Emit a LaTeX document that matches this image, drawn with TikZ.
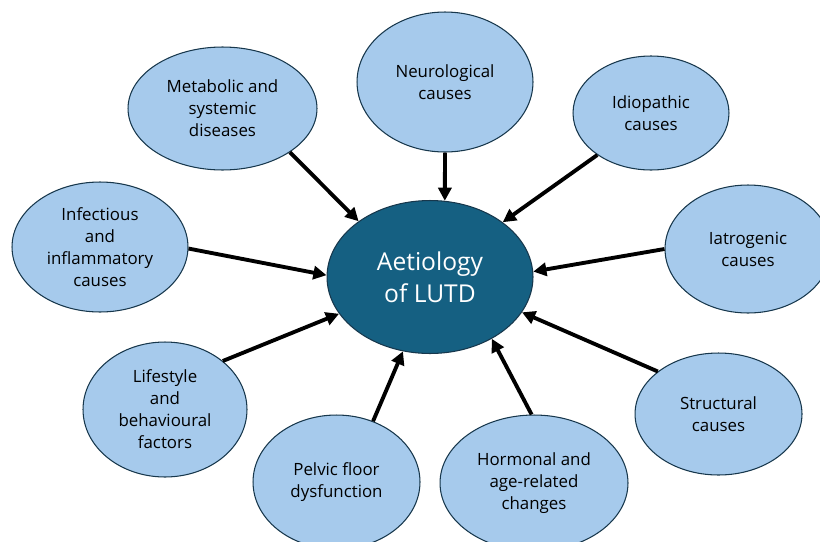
\documentclass[tikz,border=0pt]{standalone}
\usepackage{fontspec}
\setmainfont{Open Sans}
\usetikzlibrary{arrows.meta, shapes.geometric}
\definecolor{causefill}{HTML}{A6CAEC}
\definecolor{causeborder}{HTML}{17374C}
\definecolor{corefill}{HTML}{156082}

\begin{document}
\begin{tikzpicture}[
      x=0.02cm, y=-0.02cm,
      cause/.style={ellipse, draw=causeborder, fill=causefill, line width=0.6pt,
        inner sep=0pt, align=center, font=\fontsize{9.6}{12.5}\selectfont},
      core/.style={ellipse, draw=causeborder, fill=corefill, line width=0.6pt,
        inner sep=0pt, align=center, text=white, font=\fontsize{14}{18.3}\selectfont},
      link/.style={-{Triangle[length=7.5pt, width=7.5pt]}, line width=2.2pt}
    ]
      \clip (0,0) rectangle (820,541);
      \useasboundingbox (0,0) rectangle (820,541);
      \node[core, minimum width=4.12cm, minimum height=3.06cm] (hub) at (430,277)
        {Aetiology\\of LUTD};
      \node[cause, minimum width=3.52cm, minimum height=2.8cm] (neuro) at (445,82)
        {Neurological\\causes};
      \node[cause, minimum width=3.78cm, minimum height=2.46cm] (metabolic) at (222.5,108.5)
        {Metabolic and\\systemic\\diseases};
      \node[cause, minimum width=3.12cm, minimum height=2.28cm] (idiopathic) at (651,113)
        {Idiopathic\\causes};
      \node[cause, minimum width=3.52cm, minimum height=2.6cm] (infect) at (100,247)
        {Infectious\\and\\inflammatory\\causes};
      \node[cause, minimum width=3.32cm, minimum height=2.56cm] (iatrogenic) at (748,249)
        {Iatrogenic\\causes};
      \node[cause, minimum width=3.28cm, minimum height=2.7cm] (lifestyle) at (165,409.5)
        {Lifestyle\\and\\behavioural\\factors};
      \node[cause, minimum width=3.34cm, minimum height=2.68cm] (pelvic) at (336.5,482)
        {Pelvic floor\\dysfunction};
      \node[cause, minimum width=3.76cm, minimum height=2.72cm] (hormonal) at (534,483)
        {Hormonal and\\age-related\\changes};
      \node[cause, minimum width=3.34cm, minimum height=2.44cm] (structural) at (718.5,414)
        {Structural\\causes};
      \draw[link] (metabolic.-33) -- (hub.142);
      \draw[link] (neuro.-90) -- (hub.79);
      \draw[link] (idiopathic.218) -- (hub.37);
      \draw[link] (infect.-1) -- (hub.179);
      \draw[link] (iatrogenic.180) -- (hub.3);
      \draw[link] (lifestyle.40) -- (hub.202);
      \draw[link] (pelvic.59) -- (hub.250);
      \draw[link] (hormonal.92) -- (hub.-45);
      \draw[link] (structural.145) -- (hub.-21);
    \end{tikzpicture}
\end{document}
